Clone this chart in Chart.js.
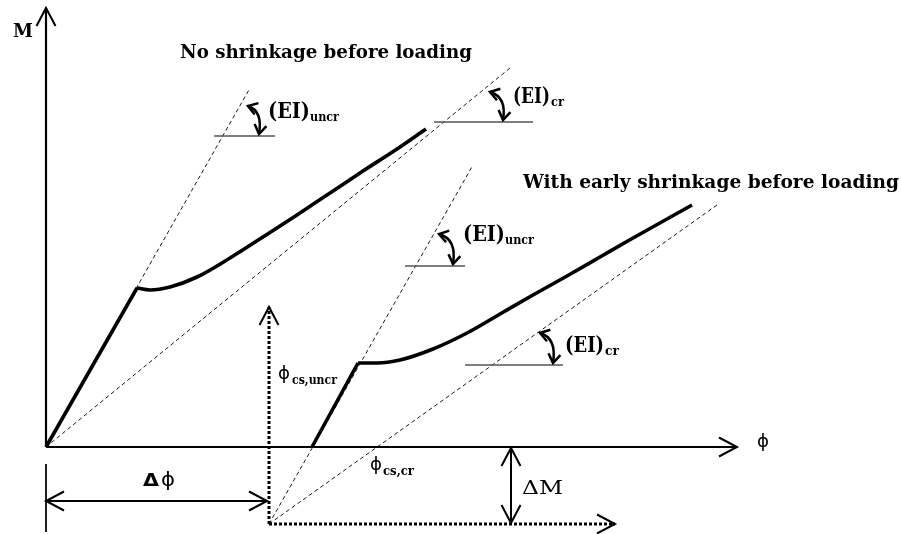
<!DOCTYPE html>
<html>
<head>
<meta charset="utf-8">
<style>
  html, body { margin: 0; padding: 0; background: #fff; }
  canvas { display: block; }
</style>
<script src="https://cdn.jsdelivr.net/npm/chart.js@4/dist/chart.umd.min.js"></script>
</head>
<body>
<canvas id="mphi" width="901" height="534"></canvas>
<script>
// Moment–curvature sketch: moment M (vertical) against curvature ϕ (horizontal), arbitrary units.

// Response without shrinkage before loading: elastic branch to cracking, then cracked branch
const phiNoShrinkage = [0, 9.1, 10.4, 12.4, 15.1, 18.4, 21.7, 25.1, 28.4, 31.7, 35.1, 38.0];
const mNoShrinkage   = [0, 15.9, 15.7, 16.0, 17.0, 18.9, 21.0, 23.2, 25.4, 27.6, 29.8, 31.8];

// Response with early shrinkage before loading
const phiEarlyShrinkage = [26.6, 31.2, 33.1, 35.4, 38.7, 42.1, 45.4, 48.7, 52.1, 55.4, 58.7, 62.1, 64.6];
const mEarlyShrinkage   = [0, 8.4, 8.4, 8.7, 9.8, 11.4, 13.3, 15.2, 17.1, 19.0, 20.9, 22.8, 24.2];

// Shrinkage curvature offset and restraint moment
const deltaPhi = 22.3;
const deltaM = 7.7;

// Stiffness lines (EI)uncr and (EI)cr: [start, end]
const uncrNoPhi = [0, 20.4],           uncrNoM = [0, 35.9];
const crNoPhi = [0, 46.4],             crNoM = [0, 37.9];
const uncrEarlyPhi = [deltaPhi, 42.7], uncrEarlyM = [-deltaM, 28.2];
const crEarlyPhi = [deltaPhi, 67.1],   crEarlyM = [-deltaM, 24.2];

// Axis extents
const phiAxisEnd = 69.1;
const mAxisEnd = 43.9;

// Shrinkage curvature arrow top, offset-moment arrow end, ΔM arrow position, Δϕ arrow level
const phiCsTop = 14.0;
const offsetLineEnd = 56.9;
const deltaMAt = 46.5;
const deltaPhiLevel = -5.4;

// Horizontal bases of the stiffness angle markers: [ϕ from, ϕ to, M]
const angleBases = [[16.8, 22.9, 31.1], [38.8, 48.7, 32.5], [35.9, 41.9, 18.1], [41.9, 51.7, 8.2]];
// Curled angle arrows: start on the stiffness line, end on the base
const angleArcs = [
  [[20.2, 34.1], [21.3, 31.3]],
  [[44.4, 35.5], [45.7, 32.7]],
  [[39.3, 21.3], [40.7, 18.3]],
  [[49.4, 11.4], [50.7, 8.4]]
];

const SERIF = '"DejaVu Serif", "Liberation Serif", serif';
const SANS = '"DejaVu Sans", "Liberation Sans", sans-serif';
const EI = 'bold 22px ' + SERIF;
const SUB = 'bold 13px ' + SERIF;
const TITLE = 'bold 18px ' + SERIF;
const PHI = '18px ' + SANS;

// Text labels: anchor [ϕ, M] at the left end of the baseline, runs drawn left to right
const labels = [
  { at: [13.4, 38.9], runs: [{ t: 'No shrinkage before loading', f: TITLE, w: 292 }] },
  { at: [47.7, 25.9], runs: [{ t: 'With early shrinkage before loading', f: TITLE, w: 376 }] },
  { at: [-3.3, 41.0], runs: [{ t: 'M', f: 'bold 18px ' + SERIF, w: 20 }] },
  { at: [71.1, 0.0], runs: [{ t: 'ϕ', f: PHI, w: 12 }] },
  { at: [9.7, -3.9], runs: [{ t: 'Δ', f: 'bold 17px ' + SANS, w: 16 }, { t: 'ϕ', f: '19px ' + SANS, w: 14, dx: 2 }] },
  { at: [47.6, -4.7], runs: [{ t: 'ΔM', f: '19px ' + SERIF, w: 41 }] },
  { at: [22.2, 32.9], runs: [{ t: '(EI)', f: EI, w: 42 }, { t: 'uncr', f: SUB, w: 29, dy: 3 }] },
  { at: [46.7, 34.4], runs: [{ t: '(EI)', f: EI, w: 37 }, { t: 'cr', f: SUB, w: 13, dy: 3, dx: 1 }] },
  { at: [41.7, 20.6], runs: [{ t: '(EI)', f: EI, w: 42 }, { t: 'uncr', f: SUB, w: 29, dy: 3 }] },
  { at: [51.9, 9.5],  runs: [{ t: '(EI)', f: EI, w: 39 }, { t: 'cr', f: SUB, w: 14, dy: 3, dx: 1 }] },
  { at: [23.2, 6.8],  runs: [{ t: 'ϕ', f: PHI, w: 12 }, { t: 'cs,uncr', f: 'bold 12px ' + SERIF, w: 45, dy: 5, dx: 2 }] },
  { at: [32.4, -2.3], runs: [{ t: 'ϕ', f: PHI, w: 12 }, { t: 'cs,cr', f: 'bold 12px ' + SERIF, w: 31, dy: 5, dx: 1 }] }
];

const pts = (xs, ys) => xs.map((x, i) => ({ x: x, y: ys[i] }));
function series(xs, ys, style) {
  return Object.assign({
    data: pts(xs, ys), showLine: true, pointRadius: 0, pointHoverRadius: 0,
    fill: false, clip: false, borderColor: '#000', borderWidth: 1, tension: 0,
    borderCapStyle: 'butt', borderJoinStyle: 'miter'
  }, style);
}

const THICK = { borderWidth: 3.6, order: 0 };
const AXIS = { borderWidth: 2.2, order: 1 };
const ARROW = { borderWidth: 2, order: 1 };
const DOT = { borderWidth: 3, borderDash: [3, 2], order: 3 };
const DASH = { borderWidth: 0.9, borderDash: [4, 3], order: 5 };
const BASE = { borderWidth: 1.4, borderColor: '#555', order: 4 };

const datasets = [
  // axes
  series([0, 0], [0, mAxisEnd], Object.assign({}, AXIS, { arrow: 'end' })),
  series([0, phiAxisEnd], [0, 0], Object.assign({}, AXIS, { arrow: 'end' })),
  // M–ϕ responses
  series(phiNoShrinkage.slice(0, 2), mNoShrinkage.slice(0, 2), THICK),
  series(phiNoShrinkage.slice(1), mNoShrinkage.slice(1), Object.assign({}, THICK, { cubicInterpolationMode: 'monotone' })),
  series(phiEarlyShrinkage.slice(0, 2), mEarlyShrinkage.slice(0, 2), THICK),
  series(phiEarlyShrinkage.slice(1), mEarlyShrinkage.slice(1), Object.assign({}, THICK, { cubicInterpolationMode: 'monotone' })),
  // stiffness lines
  series(uncrNoPhi, uncrNoM, DASH),
  series(crNoPhi, crNoM, DASH),
  series(uncrEarlyPhi, uncrEarlyM, DASH),
  series(crEarlyPhi, crEarlyM, DASH),
  // shrinkage offsets
  series([deltaPhi, deltaPhi], [-deltaM, phiCsTop], Object.assign({}, DOT, { arrow: 'end' })),
  series([deltaPhi, offsetLineEnd], [-deltaM, -deltaM], Object.assign({}, DOT, { arrow: 'end' })),
  series([0, deltaPhi - 0.2], [deltaPhiLevel, deltaPhiLevel], Object.assign({}, ARROW, { arrow: 'both' })),
  series([0, 0], [-1.7, -8.5], { borderWidth: 1, order: 1 }),
  series([deltaMAt, deltaMAt], [-0.1, -deltaM + 0.1], Object.assign({}, ARROW, { arrow: 'both' }))
].concat(angleBases.map(b => series([b[0], b[1]], [b[2], b[2]], BASE)));

function head(ctx, tip, from, len, half) {
  const dx = tip.x - from.x, dy = tip.y - from.y;
  const d = Math.hypot(dx, dy) || 1;
  const ux = dx / d, uy = dy / d;
  const bx = tip.x - ux * len, by = tip.y - uy * len;
  ctx.beginPath();
  ctx.moveTo(bx - uy * half, by + ux * half);
  ctx.lineTo(tip.x, tip.y);
  ctx.lineTo(bx + uy * half, by - ux * half);
  ctx.stroke();
}

const sketchDecor = {
  id: 'sketchDecor',
  afterDatasetsDraw(chart) {
    const ctx = chart.ctx;
    const xs = chart.scales.x, ys = chart.scales.y;
    const px = p => ({ x: xs.getPixelForValue(p[0]), y: ys.getPixelForValue(p[1]) });
    ctx.save();
    ctx.strokeStyle = '#000';
    ctx.setLineDash([]);
    ctx.lineJoin = 'miter';
    ctx.lineCap = 'butt';

    // open arrowheads at the ends of flagged lines
    chart.data.datasets.forEach((ds, i) => {
      if (!ds.arrow) return;
      const p = chart.getDatasetMeta(i).data;
      const n = p.length;
      ctx.lineWidth = 2;
      if (ds.arrow === 'end' || ds.arrow === 'both') head(ctx, p[n - 1], p[n - 2], 18, 9.5);
      if (ds.arrow === 'start' || ds.arrow === 'both') head(ctx, p[0], p[1], 18, 9.5);
    });

    // curled angle arrows between stiffness line and base
    ctx.lineWidth = 2.5;
    angleArcs.forEach(arc => {
      const a = px(arc[0]), b = px(arc[1]);
      const c = { x: b.x + 4, y: a.y + 5 };
      ctx.beginPath();
      ctx.moveTo(a.x, a.y);
      ctx.quadraticCurveTo(c.x, c.y, b.x, b.y);
      ctx.stroke();
      head(ctx, a, c, 9, 6);
      head(ctx, b, c, 9, 6);
    });

    // text labels
    ctx.fillStyle = '#000';
    ctx.textBaseline = 'alphabetic';
    ctx.textAlign = 'left';
    labels.forEach(lb => {
      const o = px(lb.at);
      let cx = o.x;
      lb.runs.forEach(r => {
        ctx.font = r.f;
        const m = ctx.measureText(r.t).width;
        const w = r.w || m;
        cx += r.dx || 0;
        ctx.save();
        ctx.translate(cx, o.y + (r.dy || 0));
        ctx.scale(w / m, 1);
        ctx.fillText(r.t, 0, 0);
        ctx.restore();
        cx += w;
      });
    });
    ctx.restore();
  }
};

new Chart(document.getElementById('mphi'), {
  type: 'scatter',
  data: { datasets: datasets },
  options: {
    responsive: false,
    animation: false,
    devicePixelRatio: 1,
    layout: { padding: 0, autoPadding: false },
    plugins: { legend: { display: false }, tooltip: { enabled: false }, title: { display: false } },
    events: [],
    scales: {
      x: { type: 'linear', min: -4.6, max: 85.5, display: false },
      y: { type: 'linear', min: -8.7, max: 44.7, display: false }
    }
  },
  plugins: [sketchDecor]
});
</script>
</body>
</html>
